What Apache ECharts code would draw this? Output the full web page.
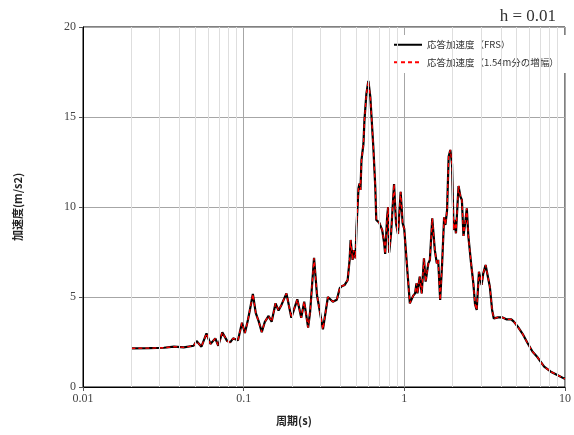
<!DOCTYPE html>
<html>
<head>
<meta charset="utf-8">
<script src="https://cdn.jsdelivr.net/npm/echarts@6/dist/echarts.min.js"></script>
<style>
  html, body { margin: 0; padding: 0; background: #fff; }
  #chart { width: 574px; height: 435px; }
</style>
</head>
<body>
<div id="chart"></div>
<script>
// Period (s) of each spectrum point
const periods = [
  0.0200, 0.0258, 0.0319, 0.0368, 0.0424, 0.0488, 0.0509, 0.0546, 0.0587, 0.0621,
  0.0666, 0.0695, 0.0736, 0.0790, 0.0824, 0.0860, 0.0922, 0.0976, 0.1018, 0.1063,
  0.1093, 0.1141, 0.1190, 0.1242, 0.1296, 0.1352, 0.1430, 0.1493, 0.1579, 0.1648,
  0.1719, 0.1846, 0.1981, 0.2157, 0.2282, 0.2381, 0.2519, 0.2592, 0.2742, 0.2861,
  0.3115, 0.3344, 0.3589, 0.3798, 0.3963, 0.4076, 0.4254, 0.4438, 0.4565, 0.4630,
  0.4696, 0.4763, 0.4831, 0.4970, 0.5040, 0.5185, 0.5259, 0.5333, 0.5410, 0.5565,
  0.5644, 0.5806, 0.5973, 0.6144, 0.6411, 0.6596, 0.6690, 0.6980, 0.7283, 0.7492,
  0.7599, 0.7817, 0.7929, 0.8042, 0.8273, 0.8509, 0.8630, 0.8878, 0.9133, 0.9487,
  0.9759, 0.9984, 1.0476, 1.0822, 1.1024, 1.1340, 1.1665, 1.1898, 1.2066, 1.2468,
  1.2826, 1.3250, 1.3574, 1.4102, 1.4424, 1.4921, 1.5480, 1.5925, 1.6243, 1.6711,
  1.7191, 1.7684, 1.8013, 1.8450, 1.8875, 1.9333, 1.9805, 2.0257, 2.0544, 2.0955,
  2.1742, 2.2366, 2.2814, 2.3340, 2.3906, 2.4486, 2.5050, 2.6027, 2.6887, 2.7542,
  2.8210, 2.9141, 3.0277, 3.0974, 3.2040, 3.2961, 3.4058, 3.5184, 3.6037, 3.8301,
  4.0530, 4.3130, 4.4115, 4.6293, 4.8031, 5.0833, 5.4562, 5.8560, 6.2849, 6.7453,
  7.4182, 8.1565, 8.9495, 9.8424, 10.000
];

// Response acceleration (m/s2), FRS
const accelFRS = [
  2.15, 2.16, 2.18, 2.24, 2.20, 2.29, 2.55, 2.24, 2.98, 2.39,
  2.70, 2.29, 3.04, 2.55, 2.48, 2.70, 2.60, 3.57, 3.00, 3.72,
  4.28, 5.17, 4.10, 3.63, 3.05, 3.60, 3.95, 3.63, 4.65, 4.25,
  4.56, 5.20, 3.85, 4.87, 3.85, 4.74, 3.30, 4.18, 7.17, 5.10,
  3.20, 5.00, 4.74, 4.85, 5.48, 5.60, 5.67, 5.94, 7.06, 8.17,
  8.26, 7.06, 7.60, 7.15, 8.90, 11.04, 11.30, 10.95, 12.60, 13.50,
  14.80, 16.30, 17.00, 16.10, 13.35, 11.10, 9.28, 9.13, 8.72, 7.98,
  7.39, 9.46, 10.00, 7.46, 8.54, 10.40, 11.28, 9.10, 8.50, 10.85,
  9.10, 8.80, 6.30, 4.65, 4.56, 5.06, 5.20, 5.76, 5.20, 6.13,
  5.20, 7.15, 5.85, 6.87, 7.06, 9.37, 7.60, 6.87, 7.06, 4.83,
  6.87, 9.43, 9.00, 9.83, 12.80, 13.17, 12.40, 8.72, 9.28, 8.54,
  11.17, 10.57, 10.39, 8.39, 9.10, 9.93, 8.35, 6.87, 5.76, 4.60,
  4.28, 6.40, 5.67, 6.30, 6.78, 6.78, 5.57, 4.28, 3.81, 3.87,
  3.87, 3.76, 3.69, 3.76, 3.63, 3.35, 2.94, 2.43, 1.96, 1.65,
  1.13, 0.85, 0.67, 0.48, 0.47
];

// Response acceleration (m/s2), amplified over 1.54 m
const accelAmp = [
  2.15, 2.16, 2.18, 2.24, 2.20, 2.29, 2.55, 2.24, 2.98, 2.39,
  2.70, 2.29, 3.04, 2.55, 2.48, 2.70, 2.60, 3.57, 3.00, 3.72,
  4.28, 5.17, 4.10, 3.63, 3.05, 3.60, 3.95, 3.63, 4.65, 4.25,
  4.56, 5.20, 3.85, 4.87, 3.85, 4.74, 3.30, 4.18, 7.17, 5.10,
  3.20, 5.00, 4.74, 4.85, 5.48, 5.60, 5.67, 5.94, 7.06, 8.17,
  8.26, 7.06, 7.60, 7.15, 8.90, 11.04, 11.30, 10.95, 12.60, 13.50,
  14.80, 16.30, 17.00, 16.10, 13.35, 11.10, 9.28, 9.13, 8.72, 7.98,
  7.39, 9.46, 10.00, 7.46, 8.54, 10.40, 11.28, 9.10, 8.50, 10.85,
  9.10, 8.80, 6.30, 4.65, 4.56, 5.06, 5.20, 5.76, 5.20, 6.13,
  5.20, 7.15, 5.85, 6.87, 7.06, 9.37, 7.60, 6.87, 7.06, 4.83,
  6.87, 9.43, 9.00, 9.83, 12.80, 13.17, 12.40, 8.72, 9.28, 8.54,
  11.17, 10.57, 10.39, 8.39, 9.10, 9.93, 8.35, 6.87, 5.76, 4.60,
  4.28, 6.40, 5.67, 6.30, 6.78, 6.78, 5.57, 4.28, 3.81, 3.87,
  3.87, 3.76, 3.69, 3.76, 3.63, 3.35, 2.94, 2.43, 1.96, 1.65,
  1.13, 0.85, 0.67, 0.48, 0.47
];

const seriesNames = ['応答加速度（FRS）', '応答加速度（1.54m分の増幅）'];

// Minor vertical grid positions (2..9 in each decade)
const minorPeriods = [
  0.02, 0.03, 0.04, 0.05, 0.06, 0.07, 0.08, 0.09,
  0.2, 0.3, 0.4, 0.5, 0.6, 0.7, 0.8, 0.9,
  2, 3, 4, 5, 6, 7, 8, 9
];

const yTicks = { min: 0, max: 20, interval: 5 };

const serif = '"Liberation Serif", "DejaVu Serif", serif';
const cjk = '"Noto Sans CJK JP", sans-serif';

function pairs(xs, ys) {
  return xs.map((x, i) => [x, ys[i]]);
}

const chart = echarts.init(document.getElementById('chart'), null, { renderer: 'canvas' });

chart.setOption({
  animation: false,
  backgroundColor: '#fff',
  title: {
    text: 'h = 0.01',
    right: 13,
    top: 3,
    textStyle: { fontFamily: serif, fontSize: 17, fontWeight: 'normal', color: '#333' }
  },
  grid: {
    left: 83, right: 3, top: 27, bottom: 48,
    show: true, borderColor: '#000', borderWidth: 1, backgroundColor: 'transparent'
  },
  legend: {
    data: seriesNames,
    orient: 'vertical',
    left: 388,
    top: 35,
    padding: [5, 20, 6, 5],
    itemGap: 8,
    itemWidth: 28,
    itemHeight: 11,
    backgroundColor: '#fff',
    itemStyle: { opacity: 0 },
    textStyle: { fontFamily: cjk, fontSize: 9.5, color: '#333' }
  },
  xAxis: {
    type: 'log',
    logBase: 10,
    min: 0.01,
    max: 10,
    name: '周期(s)',
    nameLocation: 'middle',
    nameGap: 28,
    nameTextStyle: {
      fontFamily: cjk, fontSize: 11, fontWeight: 'bold', color: '#222',
      padding: [0, 60, 0, 0]
    },
    axisLine: { show: true, onZero: false, lineStyle: { color: '#000', width: 1 } },
    axisTick: { show: true, length: 4, lineStyle: { color: '#555' } },
    axisLabel: {
      fontFamily: serif, fontSize: 12, color: '#444', margin: 6,
      formatter: v => String(v)
    },
    splitLine: { show: true, lineStyle: { color: '#a6a6a6', width: 1 } }
  },
  yAxis: {
    type: 'value',
    min: yTicks.min,
    max: yTicks.max,
    interval: yTicks.interval,
    name: '加速度(m/s2)',
    nameLocation: 'middle',
    nameGap: 60,
    nameTextStyle: { fontFamily: cjk, fontSize: 11, fontWeight: 'bold', color: '#222' },
    axisLine: { show: true, lineStyle: { color: '#000', width: 1 } },
    axisTick: { show: true, length: 4, lineStyle: { color: '#555' } },
    axisLabel: { fontFamily: serif, fontSize: 12, color: '#444', margin: 7 },
    splitLine: { show: true, lineStyle: { color: '#a6a6a6', width: 1 } }
  },
  series: [
    {
      name: 'minor-grid',
      type: 'line',
      data: [],
      z: 0,
      silent: true,
      markLine: {
        silent: true,
        symbol: 'none',
        label: { show: false },
        animation: false,
        lineStyle: { color: '#dedede', width: 1, type: 'solid' },
        data: minorPeriods.map(p => ({ xAxis: p }))
      }
    },
    {
      name: seriesNames[0],
      type: 'line',
      data: pairs(periods, accelFRS),
      symbol: 'none',
      showSymbol: false,
      z: 3,
      lineStyle: { color: '#000', width: 2.2, type: 'solid' },
      itemStyle: { color: '#000' }
    },
    {
      name: seriesNames[1],
      type: 'line',
      data: pairs(periods, accelAmp),
      symbol: 'none',
      showSymbol: false,
      z: 4,
      lineStyle: { color: '#ff0000', width: 1.3, type: [4, 3] },
      itemStyle: { color: '#ff0000' }
    }
  ]
});
</script>
</body>
</html>
